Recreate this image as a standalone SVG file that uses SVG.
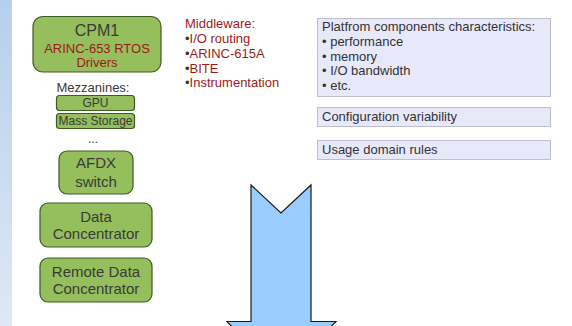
<svg xmlns="http://www.w3.org/2000/svg" width="572" height="326" viewBox="0 0 572 326">
<defs>
<linearGradient id="strip" x1="0" y1="0" x2="0" y2="1">
<stop offset="0" stop-color="#b6cfec"/>
<stop offset="1" stop-color="#dfe8f4"/>
</linearGradient>
</defs>
<style>
text{font-family:"Liberation Sans",Arial,sans-serif;}
.g{fill:#95be5c;stroke:#3f5a24;stroke-width:1.2;}
.t{fill:#3a3a3a;text-anchor:middle;}
.r{fill:#9b1b1b;}
.b{fill:#333333;}
.p{fill:#e8e8fb;stroke:#8a8a9a;stroke-width:1;stroke-dasharray:1 1;}
.pt{fill:#333333;font-size:13px;}
</style>
<rect x="0" y="0" width="572" height="326" fill="#ffffff"/>
<rect x="0" y="0" width="12" height="326" fill="url(#strip)"/>

<g id="cpm1">
<rect class="g" x="33" y="16.5" width="128" height="55.5" rx="10"/>
<text class="t" x="97" y="36" font-size="16">CPM1</text>
<text class="t r" x="97" y="53" font-size="13">ARINC-653 RTOS</text>
<text class="t r" x="97" y="67" font-size="13">Drivers</text>
</g>

<g id="mezzanines">
<text class="t" x="93" y="92" font-size="13">Mezzanines:</text>
</g>
<g id="gpu">
<rect class="g" x="56.5" y="95.5" width="78" height="15" rx="3"/>
<text class="t" x="95.5" y="107" font-size="12">GPU</text>
</g>
<g id="mass-storage">
<rect class="g" x="56.5" y="113.5" width="78" height="15" rx="3"/>
<text class="t" x="95.5" y="125" font-size="12">Mass Storage</text>
</g>
<g id="ellipsis">
<text class="t" x="93" y="143" font-size="12">...</text>
</g>

<g id="afdx">
<rect class="g" x="59" y="151" width="74" height="43" rx="8"/>
<text class="t" x="96" y="168" font-size="15">AFDX</text>
<text class="t" x="96" y="187" font-size="15">switch</text>
</g>

<g id="data-concentrator">
<rect class="g" x="40" y="203" width="112" height="44" rx="8"/>
<text class="t" x="96" y="222" font-size="15">Data</text>
<text class="t" x="96" y="239" font-size="15">Concentrator</text>
</g>

<g id="remote-data-concentrator">
<rect class="g" x="40" y="258" width="112" height="44" rx="8"/>
<text class="t" x="96" y="277" font-size="15">Remote Data</text>
<text class="t" x="96" y="294" font-size="15">Concentrator</text>
</g>

<g id="middleware" font-size="13">
<text class="r" x="185" y="28">Middleware:</text>
<text x="185" y="43"><tspan class="b">•</tspan><tspan class="r">I/O routing</tspan></text>
<text x="185" y="58"><tspan class="b">•</tspan><tspan class="r">ARINC-615A</tspan></text>
<text x="185" y="72.5"><tspan class="b">•</tspan><tspan class="r">BITE</tspan></text>
<text x="185" y="87"><tspan class="b">•</tspan><tspan class="r">Instrumentation</tspan></text>
</g>

<g id="platform-characteristics">
<rect class="p" x="317.5" y="18.5" width="233" height="78"/>
<text class="pt" x="322" y="31">Platfrom components characteristics:</text>
<text class="pt" x="322" y="46">• performance</text>
<text class="pt" x="322" y="60.5">• memory</text>
<text class="pt" x="322" y="75">• I/O bandwidth</text>
<text class="pt" x="322" y="89.5">• etc.</text>
</g>

<g id="configuration-variability">
<rect class="p" x="317.5" y="107.5" width="233" height="19"/>
<text class="pt" x="322" y="121">Configuration variability</text>
</g>

<g id="usage-domain-rules">
<rect class="p" x="317.5" y="140.5" width="233" height="19"/>
<text class="pt" x="322" y="154">Usage domain rules</text>
</g>

<g id="connectors">
<path d="M251,185 L281,213 L311,185 L311,321.5 L336,321.5 L310,348 L252,348 L227,321.5 L251,321.5 Z" fill="#99ccff" stroke="#1a1a1a" stroke-width="1.2" stroke-linejoin="miter"/>
</g>
</svg>
